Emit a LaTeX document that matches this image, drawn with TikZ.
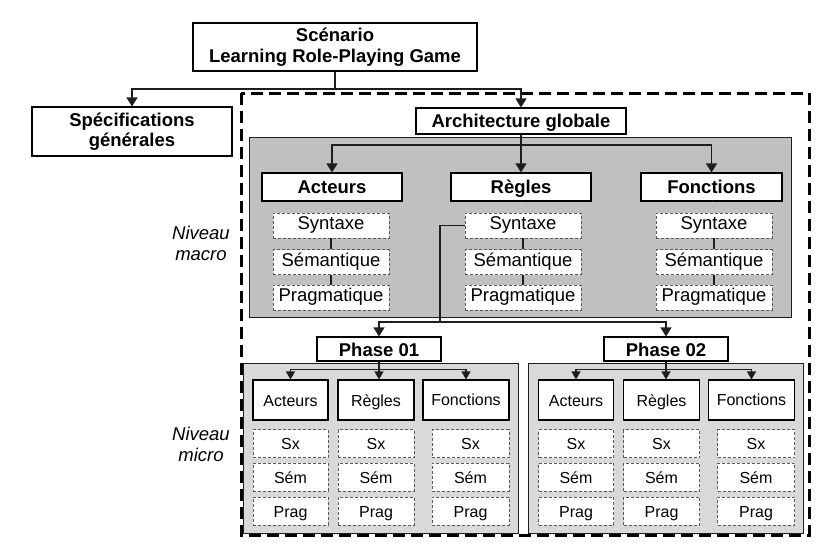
\documentclass[tikz,border=0pt]{standalone}
\usepackage{fontspec}
\setmainfont{Liberation Sans}
\usetikzlibrary{arrows.meta}
\definecolor{macrogray}{RGB}{192,192,192}
\definecolor{microgray}{RGB}{217,217,217}
\definecolor{dashgray}{RGB}{90,90,90}
\definecolor{linegray}{RGB}{30,30,30}
\begin{document}
\begin{tikzpicture}[x=1pt,y=-1pt,
  bigb/.style={font=\fontsize{18.5}{20.5}\selectfont\bfseries},
  bigr/.style={font=\fontsize{18.5}{21}\selectfont},
  smallr/.style={font=\fontsize{16}{18}\selectfont},
  tbox/.style={draw=black, fill=white, line width=1.1pt, inner sep=0pt, align=center, bigb},
  one/.style={text height=14pt, text depth=2pt},
  sbox/.style={draw=dashgray, dash pattern=on 3pt off 2pt, line width=0.8pt, fill=white, inner sep=0pt, bigr, text height=12.5pt, text depth=4pt},
  mbox/.style={draw=black, fill=white, line width=1.1pt, inner sep=0pt, smallr, text height=13pt, text depth=1pt},
  xbox/.style={draw=dashgray, dash pattern=on 3pt off 2pt, line width=0.8pt, fill=white, inner sep=0pt, smallr, text height=13pt, text depth=1pt},
  panel/.style={draw=linegray, line width=0.9pt, inner sep=0pt},
  conn/.style={draw=linegray, line width=1.1pt},
  arr/.style={conn, -{Triangle[width=11pt,length=9pt]}},
  sarr/.style={conn, -{Triangle[width=9pt,length=8pt]}},
  lbl/.style={font=\fontsize{18.5}{21}\selectfont\itshape, align=center, inner sep=0pt}
]
\fill[white] (0,0) rectangle (822,549);
\useasboundingbox (0,0) rectangle (822,549);

% panels
\node[panel, fill=macrogray, minimum width=542, minimum height=180] (macro) at (520,227) {};
\node[panel, fill=microgray, minimum width=275, minimum height=170] (mp1) at (380.5,448) {};
\node[panel, fill=microgray, minimum width=275, minimum height=170] (mp2) at (666,448) {};

% outer dashed frame
\draw[line width=3pt, dash pattern=on 12pt off 6pt] (241,93) rectangle (809,535);

% top level
\node[tbox, minimum width=284, minimum height=48] (scen) at (335,47) {Scénario\\Learning Role-Playing Game};
\node[tbox, minimum width=200, minimum height=49] (spec) at (132,131.5) {Spécifications\\générales};
\node[tbox, one, minimum width=210, minimum height=26] (arch) at (521,121) {Architecture globale};

% macro level
\node[tbox, one, minimum width=140, minimum height=28] (actM) at (332,187) {Acteurs};
\node[tbox, one, minimum width=140, minimum height=28] (regM) at (521,187) {Règles};
\node[tbox, one, minimum width=141, minimum height=28] (fonM) at (711.5,187) {Fonctions};
\foreach \c/\x in {A/331, R/523, F/714} {
  \node[sbox, minimum width=116, minimum height=25] (syn\c) at (\x,225.5) {Syntaxe};
  \node[sbox, minimum width=116, minimum height=25] (sem\c) at (\x,262) {Sémantique};
  \node[sbox, minimum width=116, minimum height=25] (pra\c) at (\x,297.5) {Pragmatique};
  \draw[conn] (syn\c.south) -- (sem\c.north);
  \draw[conn] (sem\c.south) -- (pra\c.north);
}
\draw[conn] (actM.south) -- (actM.south -| synA.north);
\draw[conn] (regM.south) -- (regM.south -| synR.north);
\draw[conn] (fonM.south) -- (fonM.south -| synF.north);

\node[lbl] (nmac) at (201,243) {Niveau\\macro};
\node[lbl] (nmic) at (201,444) {Niveau\\micro};

% phases
\node[tbox, minimum width=124, minimum height=24, text height=15pt, text depth=1pt] (ph1) at (379,349) {Phase 01};
\node[tbox, minimum width=124, minimum height=24, text height=15pt, text depth=1pt] (ph2) at (666,349) {Phase 02};

% micro level
\foreach \i/\dx in {1/0, 2/285.5} {
  \node[mbox, minimum width=75, minimum height=40] (a\i) at (290.5+\dx,400) {Acteurs};
  \node[mbox, minimum width=76, minimum height=40] (r\i) at (376+\dx,400) {Règles};
  \node[mbox, minimum width=86, minimum height=40, text height=13pt, text depth=3pt] (f\i) at (466+\dx,400) {Fonctions};
  \foreach \c/\x/\w in {A/290.5/75, R/376/76, F/470.5/77} {
    \node[xbox, minimum width=\w, minimum height=28] (sx\c\i) at (\x+\dx,443.5) {Sx};
    \node[xbox, minimum width=\w, minimum height=28] (se\c\i) at (\x+\dx,477) {Sém};
    \node[xbox, minimum width=\w, minimum height=28] (pr\c\i) at (\x+\dx,511) {Prag};
  }
}

% connectors top
\coordinate (t) at (335,89);
\draw[conn] (scen.south) -- (t);
\draw[arr] (t) -| (spec.north);
\draw[arr] (t) -| (arch.north);

% connectors macro
\coordinate (m) at (521,145);
\draw[conn] (arch.south) -- (m);
\draw[arr] (m) -| (actM.north);
\draw[arr] (m) -- (regM.north);
\draw[arr] (m) -| (fonM.north);

% connectors to phases
\coordinate (j) at (440,322);
\draw[conn] (synR.west) -| (j);
\draw[arr] (j) -| (ph1.north);
\draw[arr] (j) -| (ph2.north);

% connectors micro
\foreach \i in {1,2} {
  \coordinate (q\i) at ([yshift=-8pt]ph\i.south);
  \draw[conn] (ph\i.south) -- (q\i);
  \draw[sarr] (q\i) -| (a\i.north);
  \draw[sarr] (q\i) -| (f\i.north);
  \draw[sarr] (ph\i.south) -- (ph\i.south |- r\i.north);
}
\end{tikzpicture}
\end{document}
